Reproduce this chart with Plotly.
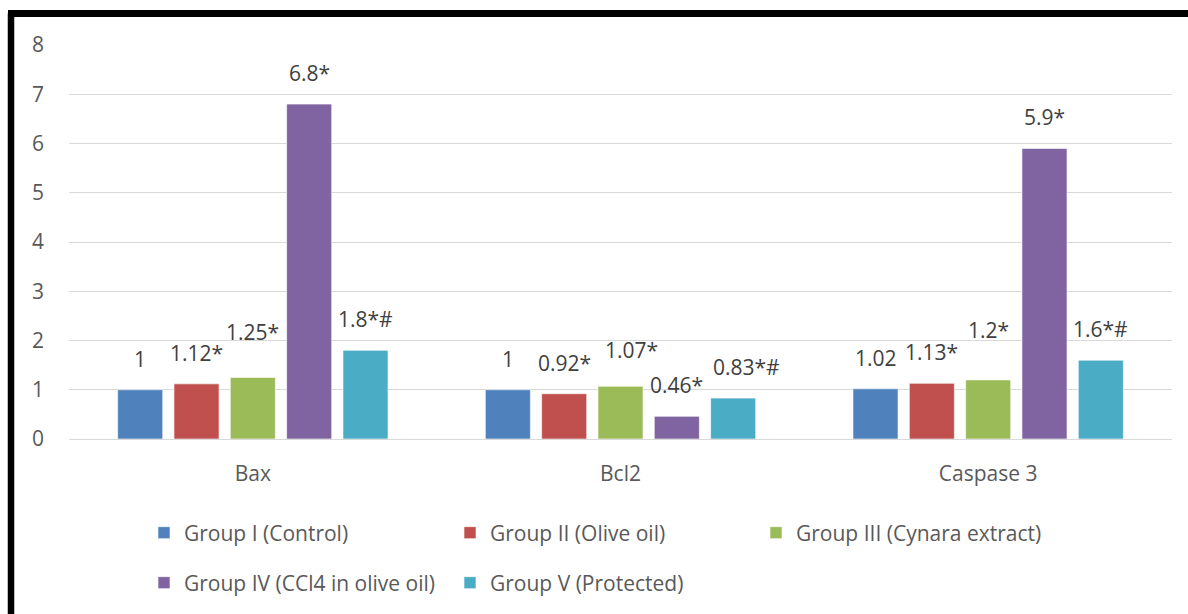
import plotly.graph_objects as go

categories = ["Bax", "Bcl2", "Caspase 3"]
series_names = [
    "Group I (Control)",
    "Group II (Olive oil)",
    "Group III (Cynara extract)",
    "Group IV (CCl4 in olive oil)",
    "Group V (Protected)",
]
g1 = [1.0, 1.0, 1.02]
g2 = [1.12, 0.92, 1.13]
g3 = [1.25, 1.07, 1.2]
g4 = [6.8, 0.46, 5.9]
g5 = [1.8, 0.83, 1.6]
l1 = ["1", "1", "1.02"]
l2 = ["1.12*", "0.92*", "1.13*"]
l3 = ["1.25*", "1.07*", "1.2*"]
l4 = ["6.8*", "0.46*", "5.9*"]
l5 = ["1.8*#", "0.83*#", "1.6*#"]
y_ticks = [0, 1, 2, 3, 4, 5, 6, 7, 8]

values = [g1, g2, g3, g4, g5]
labels = [l1, l2, l3, l4, l5]
colors = ["#4F81BD", "#C0504D", "#9BBB59", "#8064A2", "#4BACC6"]

W, H = 1188, 614
ML, MR, MT, MB = 69, 16, 45, 175
PW = W - ML - MR
PH = H - MT - MB
BARGAP = 0.234
pitch = PW / 3 * (1 - BARGAP) / 5

# label placement tweaks (style only): extra y lift and x shift in px
extra_y = [[0, 0, 0], [0, 0, 0], [14, 5, 19], [0, 0, 0], [0, 0, 0]]
extra_x = [[0, 0, 0], [0, 0, 0], [0, 11, 0], [0, 0, 0], [0, 13, 0]]

FONT = "Open Sans"
FS = 21
fig = go.Figure()
for i, (name, vals, col) in enumerate(zip(series_names, values, colors)):
    fig.add_trace(go.Bar(
        x=categories, y=vals, name=name,
        marker=dict(color=col, line=dict(color="rgba(255,255,255,0.6)", width=1)),
        legend="legend" if i < 3 else "legend2",
    ))

annotations = []
for i in range(5):
    for j, cat in enumerate(categories):
        annotations.append(dict(
            x=cat, y=values[i][j], xref="x", yref="y",
            text=labels[i][j], showarrow=False,
            xanchor="center", yanchor="bottom",
            xshift=(i - 2) * pitch + extra_x[i][j],
            yshift=15 + extra_y[i][j],
            font=dict(family=FONT, size=21, color="#404040"),
        ))

def px_x(px):
    return (px - ML) / PW

def px_y(py):
    return (H - MB - py) / PH

shapes = [
    dict(type="line", xref="paper", yref="paper",
         x0=px_x(11), x1=px_x(11), y0=px_y(13.5), y1=px_y(640),
         line=dict(color="black", width=6.5)),
    dict(type="line", xref="paper", yref="paper",
         x0=px_x(8), x1=px_x(1220), y0=px_y(13.5), y1=px_y(13.5),
         line=dict(color="black", width=7)),
]

leg_common = dict(orientation="h", xanchor="left", yanchor="middle",
                  entrywidth=261, entrywidthmode="pixels", itemwidth=30,
                  font=dict(family=FONT, size=FS, color="#595959"),
                  bgcolor="rgba(0,0,0,0)")

fig.update_layout(
    width=W, height=H,
    margin=dict(l=ML, r=MR, t=MT, b=MB, autoexpand=False),
    paper_bgcolor="white", plot_bgcolor="white",
    barmode="group", bargap=BARGAP, bargroupgap=0.2,
    font=dict(family=FONT, size=FS, color="#595959"),
    xaxis=dict(showgrid=False, showline=False, zeroline=False, ticks="",
               tickfont=dict(size=FS, color="#595959"), ticklabelstandoff=20),
    yaxis=dict(range=[0, 8], tickvals=y_ticks, showgrid=True, gridcolor="#D9D9D9",
               gridwidth=1, zeroline=True, zerolinecolor="#D9D9D9", zerolinewidth=1,
               showline=False, ticks="", tickfont=dict(size=FS, color="#595959"),
               ticklabelstandoff=24),
    legend=dict(x=px_x(144), y=px_y(533), **leg_common),
    legend2=dict(x=px_x(144), y=px_y(583), **leg_common),
    annotations=annotations,
    shapes=shapes,
)

fig.write_html("out.html")
